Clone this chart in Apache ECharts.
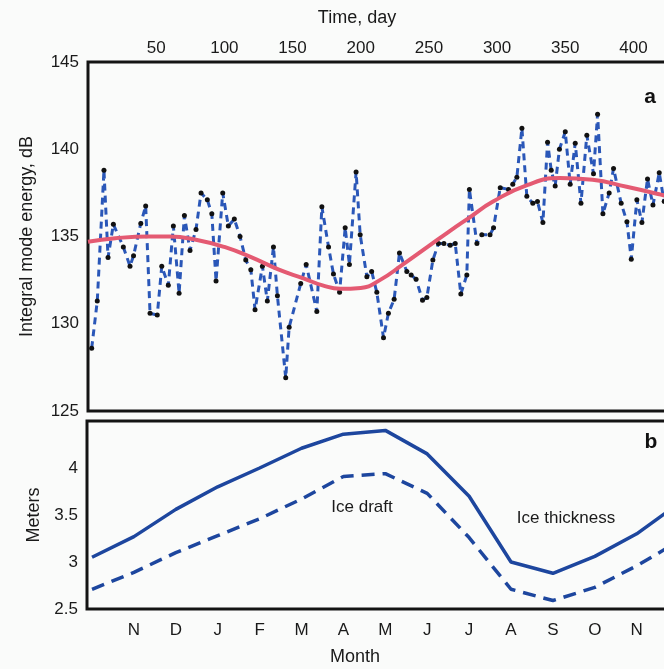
<!DOCTYPE html>
<html><head><meta charset="utf-8">
<script src="https://cdn.jsdelivr.net/npm/echarts@6/dist/echarts.min.js"></script>
<style>html,body{margin:0;padding:0;background:#fafbfa;}#c{width:664px;height:669px;}</style>
</head><body><div id="c"></div>
<script>
// Panel a: measured integral mode energy (day, dB)
const tDays = [2.7, 6.8, 11.7, 14.7, 18.6, 25.9, 30.8, 33.4, 38.7, 42.3, 45.5, 50.8, 54.1, 58.9, 62.6, 66.8, 70.7, 74.8, 79.2, 82.9, 87.5, 90.8, 93.9, 98.8, 102.9, 107.3, 111.5, 115.7, 119.4, 122.5, 127.9, 131.5, 136.0, 138.9, 145.0, 147.5, 156.0, 160.0, 167.8, 171.5, 176.4, 180.0, 184.5, 188.6, 191.7, 196.6, 199.6, 204.5, 208.0, 211.8, 216.7, 220.3, 224.5, 228.4, 233.8, 237.0, 240.6, 245.3, 248.5, 252.9, 257.0, 261.0, 265.6, 269.3, 273.4, 277.8, 279.7, 285.2, 288.8, 294.8, 297.4, 302.3, 308.4, 311.5, 314.5, 318.2, 321.8, 326.2, 329.6, 333.6, 337.0, 339.7, 342.6, 345.7, 350.0, 353.6, 357.3, 361.5, 365.8, 370.7, 373.7, 377.6, 382.2, 385.4, 391.0, 395.2, 398.4, 402.5, 406.2, 410.3, 414.3, 418.9, 422.5];
const tVals = [128.6, 131.3, 138.8, 133.8, 135.7, 134.4, 133.3, 133.9, 135.75, 136.75, 130.6, 130.5, 133.3, 132.2, 135.6, 131.75, 136.2, 134.2, 135.4, 137.5, 137.1, 136.3, 132.45, 137.5, 135.6, 136.0, 135.0, 133.65, 133.1, 130.8, 133.3, 131.3, 134.4, 131.6, 126.9, 129.8, 132.3, 133.4, 130.7, 136.7, 134.4, 132.85, 131.8, 135.5, 133.4, 138.7, 135.1, 132.7, 133.0, 131.8, 129.2, 130.6, 131.4, 134.05, 133.0, 132.8, 132.55, 131.35, 131.5, 133.65, 134.6, 134.6, 134.5, 134.6, 131.7, 132.8, 137.7, 134.6, 135.1, 135.1, 135.5, 137.8, 137.7, 138.0, 138.4, 141.2, 137.3, 136.9, 137.0, 135.8, 140.4, 138.8, 137.9, 140.0, 141.0, 138.0, 140.35, 136.9, 140.8, 138.6, 142.0, 136.3, 137.5, 138.9, 136.9, 135.85, 133.7, 137.1, 135.8, 138.3, 136.8, 138.65, 137.0];
// smooth seasonal trend (red)
const trendDays = [0, 20, 45, 60, 80, 100, 120, 140, 158, 172, 185, 200, 214, 231, 249, 265, 280, 297, 322, 346, 370, 395, 420, 440];
const trendVals = [134.7, 134.9, 135.0, 135.0, 134.8, 134.4, 133.8, 133.1, 132.6, 132.2, 132.0, 132.05, 132.5, 133.4, 134.4, 135.3, 136.1, 137.0, 137.95, 138.35, 138.25, 137.85, 137.4, 137.0];
// Panel b: monthly ice
const months = ['O','N','D','J','F','M','A','M','J','J','A','S','O','N','D'];
const thickness = [3.05, 3.27, 3.56, 3.80, 4.00, 4.21, 4.36, 4.40, 4.15, 3.70, 3.00, 2.88, 3.06, 3.30, 3.62];
const draft = [2.71, 2.89, 3.10, 3.28, 3.46, 3.67, 3.91, 3.94, 3.73, 3.26, 2.71, 2.59, 2.73, 2.96, 3.22];
// tick labels
const dayTicks = [50, 100, 150, 200, 250, 300, 350, 400];
const monthTicks = [1,2,3,4,5,6,7,8,9,10,11,12,13];
const meterTicks = [2.5, 3, 3.5, 4];

const FONT = '"Liberation Sans", Arial, sans-serif';
const lbl = {color:'#1a1a1a', fontSize:17, fontFamily:FONT};
const chart = echarts.init(document.getElementById('c'));
const option = {
  backgroundColor:'#fafbfa',
  animation:false,
  grid:[
    {left:88, top:62, width:600, height:349, show:true, borderColor:'#141414', borderWidth:3, backgroundColor:'rgba(0,0,0,0)', containLabel:false, outerBoundsMode:'none'},
    {left:87, top:421, width:600, height:188, show:true, borderColor:'#141414', borderWidth:3, backgroundColor:'rgba(0,0,0,0)', containLabel:false, outerBoundsMode:'none'}
  ],
  xAxis:[
    {type:'value', gridIndex:0, position:'top', min:0, max:440,
     axisLine:{show:false}, axisTick:{show:false}, splitLine:{show:false},
     axisLabel:Object.assign({customValues:dayTicks, margin:5}, lbl)},
    {type:'value', gridIndex:1, position:'bottom', min:-0.12, max:14.2,
     axisLine:{show:false}, axisTick:{show:false}, splitLine:{show:false},
     axisLabel:Object.assign({customValues:monthTicks, margin:13, formatter:v=>months[Math.round(v)]}, lbl)}
  ],
  yAxis:[
    {type:'value', gridIndex:0, min:125, max:145, interval:5,
     axisLine:{show:false}, axisTick:{show:false}, splitLine:{show:false},
     axisLabel:Object.assign({margin:9}, lbl),
     name:'Integral mode energy, dB', nameLocation:'middle', nameGap:52,
     nameTextStyle:{color:'#1a1a1a', fontSize:18, fontFamily:FONT}},
    {type:'value', gridIndex:1, min:2.5, max:4.5,
     axisLine:{show:false}, axisTick:{show:false}, splitLine:{show:false},
     axisLabel:Object.assign({customValues:meterTicks, margin:9}, lbl),
     name:'Meters', nameLocation:'middle', nameGap:44,
     nameTextStyle:{color:'#1a1a1a', fontSize:18, fontFamily:FONT}}
  ],
  series:[
    {type:'line', xAxisIndex:0, yAxisIndex:0, data:tDays.map((d,i)=>[d,tVals[i]]),
     symbol:'circle', symbolSize:5, showAllSymbol:true, itemStyle:{color:'#111'},
     lineStyle:{color:'#2a57b8', width:3, type:[7,5]}, z:2},
    {type:'line', xAxisIndex:0, yAxisIndex:0, data:trendDays.map((d,i)=>[d,trendVals[i]]),
     symbol:'none', smooth:0.5, lineStyle:{color:'#e45a72', width:4}, z:3},
    {type:'line', xAxisIndex:1, yAxisIndex:1, data:thickness.map((v,i)=>[i,v]),
     symbol:'none', lineStyle:{color:'#1d469e', width:3.5}},
    {type:'line', xAxisIndex:1, yAxisIndex:1, data:draft.map((v,i)=>[i,v]),
     symbol:'none', lineStyle:{color:'#1d469e', width:3.5, type:[13,8]}}
  ],
  graphic:[
    {type:'text', x:357, y:18, style:{text:'Time, day', fill:'#1a1a1a', font:'18px '+FONT, textAlign:'center', textVerticalAlign:'middle', align:'center', verticalAlign:'middle'}},
    {type:'text', x:355, y:657, style:{text:'Month', fill:'#1a1a1a', font:'18px '+FONT, textAlign:'center', textVerticalAlign:'middle', align:'center', verticalAlign:'middle'}},
    {type:'text', x:650, y:97, style:{text:'a', fill:'#111', font:'bold 21px '+FONT, textAlign:'center', textVerticalAlign:'middle', align:'center', verticalAlign:'middle'}},
    {type:'text', x:651, y:442, style:{text:'b', fill:'#111', font:'bold 21px '+FONT, textAlign:'center', textVerticalAlign:'middle', align:'center', verticalAlign:'middle'}},
    {type:'text', x:362, y:507, style:{text:'Ice draft', fill:'#1a1a1a', font:'17px '+FONT, textAlign:'center', textVerticalAlign:'middle', align:'center', verticalAlign:'middle'}},
    {type:'text', x:566, y:518, style:{text:'Ice thickness', fill:'#1a1a1a', font:'17px '+FONT, textAlign:'center', textVerticalAlign:'middle', align:'center', verticalAlign:'middle'}}
  ]
};
chart.setOption(option);
</script>
</body></html>
